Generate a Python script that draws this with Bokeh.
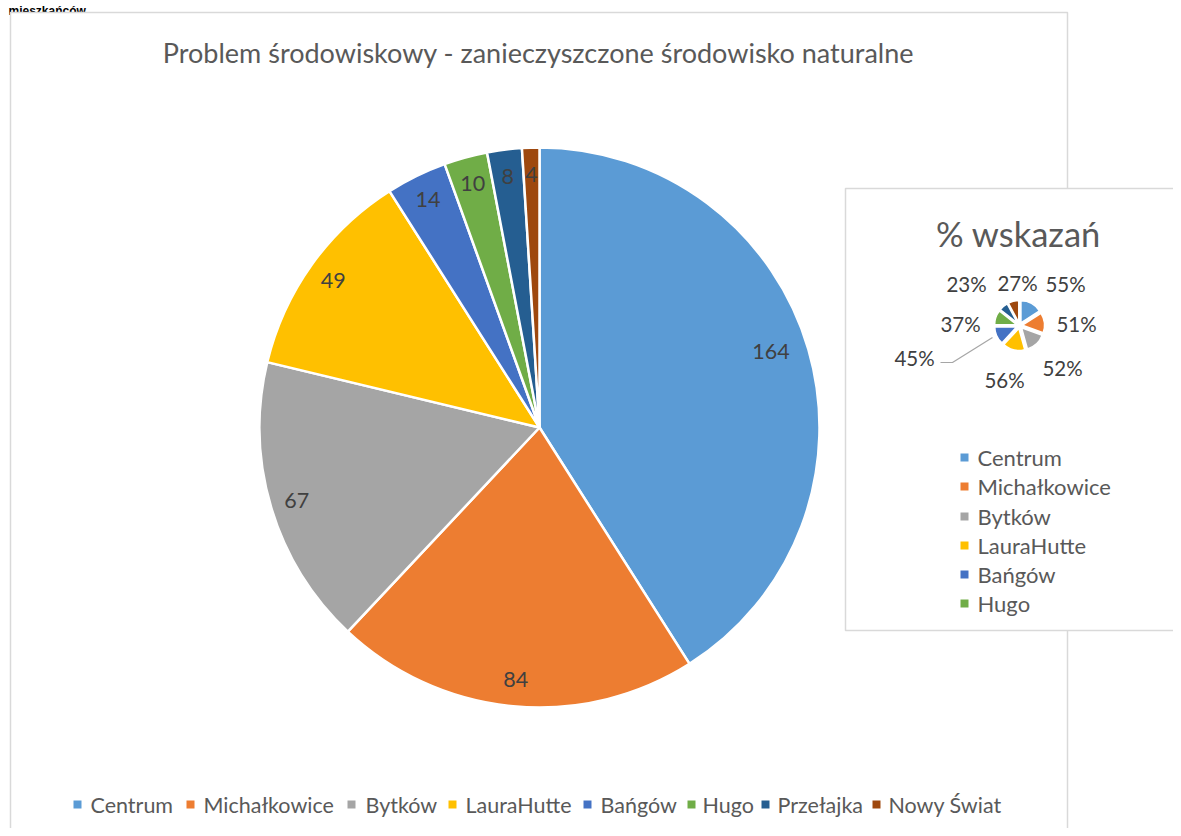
import math
from bokeh.plotting import figure
from bokeh.models import Range1d
from bokeh.core.properties import value
from bokeh.embed import file_html
from bokeh.resources import INLINE

# ---------------- data ----------------
categories = ["Centrum", "Michałkowice", "Bytków", "LauraHutte", "Bańgów", "Hugo", "Przełajka", "Nowy Świat"]
counts = [164, 84, 67, 49, 14, 10, 8, 4]
percents = [55, 51, 52, 56, 45, 37, 23, 27]
percent_labels = ["55%", "51%", "52%", "56%", "45%", "37%", "23%", "27%"]
small_legend = ["Centrum", "Michałkowice", "Bytków", "LauraHutte", "Bańgów", "Hugo"]
colors = ["#5B9BD5", "#ED7D31", "#A5A5A5", "#FFC000", "#4472C4", "#70AD47", "#255E91", "#9E480E"]
title_main = "Problem środowiskowy - zanieczyszczone środowisko naturalne"
title_small = "% wskazań"
page_caption = "mieszkańców"

FONT = "Lato"
W, H = 1173, 828


def X(sx):
    return sx


def Y(sy):
    return H - sy


p = figure(width=W, height=H, output_backend="svg", toolbar_location=None,
           x_range=Range1d(0, W), y_range=Range1d(0, H),
           min_border=0, outline_line_color=None)
p.axis.visible = False
p.xgrid.visible = False
p.ygrid.visible = False
p.background_fill_color = "white"
p.border_fill_color = "white"

# caption above the chart (cut off in the original screenshot)
p.text(x=[X(8)], y=[Y(10)], text=[page_caption], text_font=value("Liberation Sans"),
       text_font_size="12px", text_font_style="bold", text_color="#000000",
       text_align="left", text_baseline="alphabetic")

# main chart frame
p.quad(left=[X(10)], right=[X(1067)], top=[Y(12)], bottom=[Y(900)],
       fill_color="white", line_color="#D9D9D9", line_width=1.5)


def angles(vals):
    total = float(sum(vals))
    starts, ends, mids = [], [], []
    acc = 0.0
    for v in vals:
        a0 = math.pi / 2 - 2 * math.pi * acc / total
        acc += v
        a1 = math.pi / 2 - 2 * math.pi * acc / total
        starts.append(a1)
        ends.append(a0)
        mids.append((a0 + a1) / 2)
    return starts, ends, mids


# ---------------- main pie ----------------
cx, cy, R = X(539), Y(427), 280
s, e, m = angles(counts)
p.wedge(x=cx, y=cy, radius=R, start_angle=s, end_angle=e,
        fill_color=colors, line_color="white", line_width=2.5)

lr = 0.905 * R
lx = [cx + lr * math.cos(a) for a in m]
ly = [cy + lr * math.sin(a) for a in m]
# Excel nudges the large slice's label slightly along the rim
a0 = m[0] + 0.035
lx[0] = cx + 0.87 * R * math.cos(a0)
ly[0] = cy + 0.87 * R * math.sin(a0)
p.text(x=lx, y=ly, text=[str(c) for c in counts], text_font=value(FONT),
       text_font_size="21.5px", text_color="#404040", text_align="center",
       text_baseline="middle")

p.text(x=[X(538)], y=[Y(52)], text=[title_main], text_font=value(FONT),
       text_font_size="27px", text_color="#595959", text_align="center",
       text_baseline="middle")

# bottom legend
leg_sq_x = [77, 190, 351, 452, 587, 691, 765, 876]
leg_tx = [90, 203, 365, 465, 600, 702, 777, 888]
p.rect(x=[X(v) for v in leg_sq_x], y=[Y(804)] * 8, width=8, height=8,
       fill_color=colors, line_color=None)
p.text(x=[X(v) for v in leg_tx], y=[Y(804)] * 8, text=categories, text_font=value(FONT),
       text_font_size="21.5px", text_color="#595959", text_align="left",
       text_baseline="middle")

# ---------------- small chart (overlay) ----------------
p.quad(left=[X(845)], right=[X(1200)], top=[Y(188)], bottom=[Y(630)],
       fill_color="white", line_color="#D9D9D9", line_width=1.5)

p.text(x=[X(1018)], y=[Y(233)], text=[title_small], text_font=value(FONT),
       text_font_size="34.5px", text_color="#595959", text_align="center",
       text_baseline="middle")

scx, scy, sr, ex = X(1019), Y(325), 22, 3
s2, e2, m2 = angles(percents)
wx = [scx + ex * math.cos(a) for a in m2]
wy = [scy + ex * math.sin(a) for a in m2]
p.wedge(x=wx, y=wy, radius=sr, start_angle=s2, end_angle=e2,
        fill_color=colors, line_color="white", line_width=1.5)

# leader line for the 45% label
p.line(x=[X(940), X(952), X(992)], y=[Y(362), Y(362), Y(337)],
       line_color="#A6A6A6", line_width=1.2)

pl_x = [1065, 1076, 1062, 1004, 914, 960, 966, 1017]
pl_y = [283, 323, 367, 379, 357, 323, 283, 282]
p.text(x=[X(v) for v in pl_x], y=[Y(v) for v in pl_y], text=percent_labels,
       text_font=value(FONT), text_font_size="20.5px", text_color="#404040",
       text_align="center", text_baseline="middle")

sl_y = [457, 486, 516, 545, 574, 603]
p.rect(x=[X(964)] * 6, y=[Y(v) for v in sl_y], width=8, height=8,
       fill_color=colors[:6], line_color=None)
p.text(x=[X(977)] * 6, y=[Y(v) for v in sl_y], text=small_legend,
       text_font=value(FONT), text_font_size="22px", text_color="#595959",
       text_align="left", text_baseline="middle")

open("out.html", "w").write(file_html(p, INLINE))
